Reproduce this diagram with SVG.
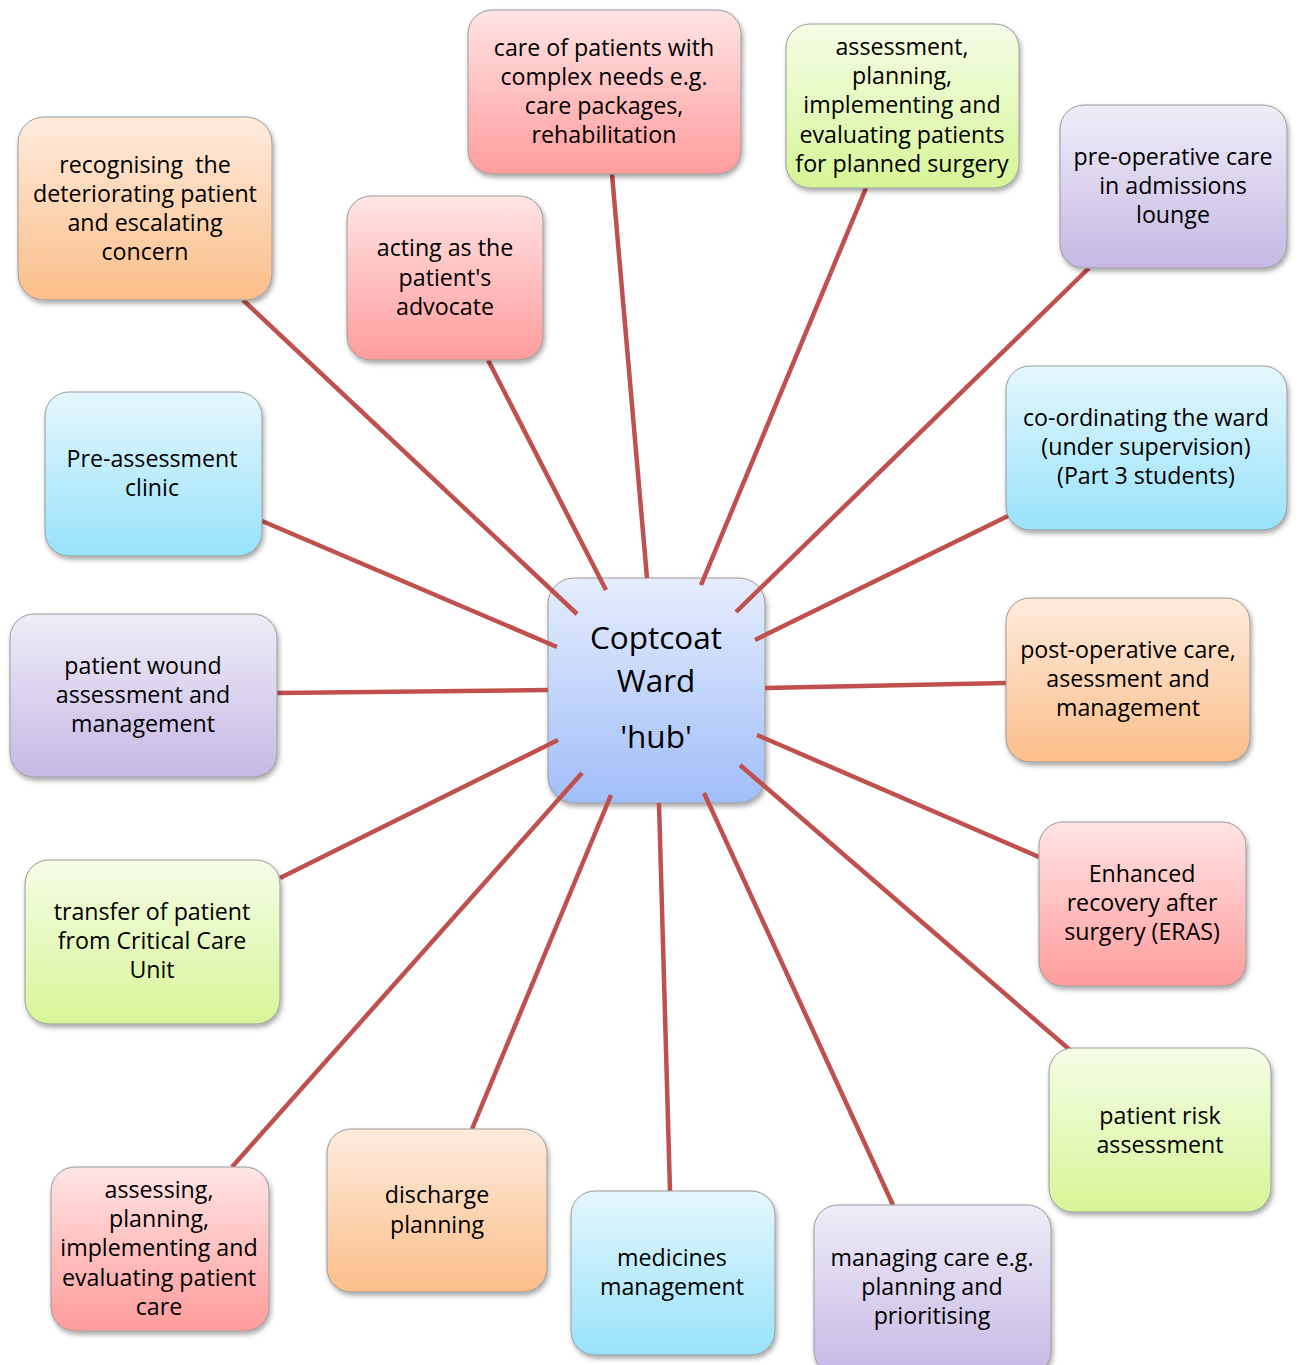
<svg xmlns="http://www.w3.org/2000/svg" width="1298" height="1365" viewBox="0 0 1298 1365">
<defs>
<linearGradient id="gOr" x1="0" y1="0" x2="0" y2="1"><stop offset="0" stop-color="#FEEBDC"/><stop offset="1" stop-color="#FBBE8A"/></linearGradient>
<linearGradient id="gPk" x1="0" y1="0" x2="0" y2="1"><stop offset="0" stop-color="#FFE4E4"/><stop offset="1" stop-color="#FF9C9C"/></linearGradient>
<linearGradient id="gGr" x1="0" y1="0" x2="0" y2="1"><stop offset="0" stop-color="#F5FDE6"/><stop offset="1" stop-color="#D6F597"/></linearGradient>
<linearGradient id="gPu" x1="0" y1="0" x2="0" y2="1"><stop offset="0" stop-color="#EFEDF8"/><stop offset="1" stop-color="#C6B8E4"/></linearGradient>
<linearGradient id="gBl" x1="0" y1="0" x2="0" y2="1"><stop offset="0" stop-color="#E4F7FD"/><stop offset="1" stop-color="#98E2FA"/></linearGradient>
<linearGradient id="gHub" x1="0" y1="0" x2="0" y2="1"><stop offset="0" stop-color="#E5EDFD"/><stop offset="1" stop-color="#A0BEF9"/></linearGradient>
<filter id="sh" x="-10%" y="-10%" width="125%" height="130%"><feDropShadow dx="1.5" dy="3" stdDeviation="2.5" flood-color="#000" flood-opacity="0.35"/></filter>
</defs>
<style>
.box{stroke:#9a9a9a;stroke-width:1;filter:url(#sh)}
.t{font-family:"Open Sans","Noto Sans",sans-serif;font-size:23.2px;fill:#000;text-anchor:middle;white-space:pre}
.h{font-family:"Open Sans","Noto Sans",sans-serif;font-size:31.5px;fill:#000;text-anchor:middle}
.c line{stroke:#C0504D;stroke-width:4.5;stroke-linecap:butt}
</style>
<rect width="1298" height="1365" fill="#fff"/>

<g id="hub">
<rect class="box" x="548" y="578" width="217" height="225" rx="26" fill="url(#gHub)"/>
<text class="h" x="656" y="649">Coptcoat</text>
<text class="h" x="656" y="692">Ward</text>
<text class="h" x="656" y="748">'hub'</text>
</g>

<g id="connectors" class="c">
<line x1="243" y1="300" x2="577" y2="614"/>
<line x1="488" y1="360" x2="606" y2="590"/>
<line x1="612" y1="174" x2="647" y2="578"/>
<line x1="866" y1="188" x2="701" y2="585"/>
<line x1="1089" y1="268" x2="736" y2="612"/>
<line x1="1008" y1="516" x2="755" y2="640"/>
<line x1="1006" y1="683" x2="765" y2="688"/>
<line x1="1039" y1="857" x2="757" y2="735"/>
<line x1="1070" y1="1050" x2="740" y2="765"/>
<line x1="893" y1="1205" x2="704" y2="793"/>
<line x1="670" y1="1191" x2="659" y2="803"/>
<line x1="472" y1="1129" x2="611" y2="795"/>
<line x1="232" y1="1167" x2="582" y2="773"/>
<line x1="280" y1="878" x2="558" y2="740"/>
<line x1="277" y1="693" x2="548" y2="690"/>
<line x1="262" y1="521" x2="557" y2="647"/>
</g>

<g id="n-recognising">
<rect class="box" x="18" y="117" width="254" height="183" rx="26" fill="url(#gOr)"/>
<text class="t" x="145" y="173" xml:space="preserve">recognising  the</text>
<text class="t" x="145" y="202">deteriorating patient</text>
<text class="t" x="145" y="231">and escalating</text>
<text class="t" x="145" y="260">concern</text>
</g>

<g id="n-advocate">
<rect class="box" x="347" y="196" width="196" height="164" rx="24" fill="url(#gPk)"/>
<text class="t" x="445" y="256">acting as the</text>
<text class="t" x="445" y="286">patient's</text>
<text class="t" x="445" y="315">advocate</text>
</g>

<g id="n-complex">
<rect class="box" x="468" y="10" width="273" height="164" rx="24" fill="url(#gPk)"/>
<text class="t" x="604" y="56">care of patients with</text>
<text class="t" x="604" y="85">complex needs e.g.</text>
<text class="t" x="604" y="114">care packages,</text>
<text class="t" x="604" y="143">rehabilitation</text>
</g>

<g id="n-planned">
<rect class="box" x="786" y="24" width="233" height="164" rx="24" fill="url(#gGr)"/>
<text class="t" x="902" y="55">assessment,</text>
<text class="t" x="902" y="84">planning,</text>
<text class="t" x="902" y="113">implementing and</text>
<text class="t" x="902" y="143">evaluating patients</text>
<text class="t" x="902" y="172">for planned surgery</text>
</g>

<g id="n-preop">
<rect class="box" x="1060" y="105" width="227" height="163" rx="24" fill="url(#gPu)"/>
<text class="t" x="1173" y="165">pre-operative care</text>
<text class="t" x="1173" y="194">in admissions</text>
<text class="t" x="1173" y="223">lounge</text>
</g>

<g id="n-coordinating">
<rect class="box" x="1006" y="366" width="281" height="164" rx="24" fill="url(#gBl)"/>
<text class="t" x="1146" y="426">co-ordinating the ward</text>
<text class="t" x="1146" y="455">(under supervision)</text>
<text class="t" x="1146" y="484">(Part 3 students)</text>
</g>

<g id="n-postop">
<rect class="box" x="1006" y="598" width="244" height="164" rx="24" fill="url(#gOr)"/>
<text class="t" x="1128" y="658">post-operative care,</text>
<text class="t" x="1128" y="687">asessment and</text>
<text class="t" x="1128" y="716">management</text>
</g>

<g id="n-eras">
<rect class="box" x="1039" y="822" width="207" height="164" rx="24" fill="url(#gPk)"/>
<text class="t" x="1142" y="882">Enhanced</text>
<text class="t" x="1142" y="911">recovery after</text>
<text class="t" x="1142" y="940">surgery (ERAS)</text>
</g>

<g id="n-risk">
<rect class="box" x="1049" y="1048" width="222" height="164" rx="24" fill="url(#gGr)"/>
<text class="t" x="1160" y="1124">patient risk</text>
<text class="t" x="1160" y="1153">assessment</text>
</g>

<g id="n-managing">
<rect class="box" x="814" y="1205" width="237" height="170" rx="24" fill="url(#gPu)"/>
<text class="t" x="932" y="1266">managing care e.g.</text>
<text class="t" x="932" y="1295">planning and</text>
<text class="t" x="932" y="1324">prioritising</text>
</g>

<g id="n-medicines">
<rect class="box" x="571" y="1191" width="204" height="164" rx="24" fill="url(#gBl)"/>
<text class="t" x="672" y="1266">medicines</text>
<text class="t" x="672" y="1295">management</text>
</g>

<g id="n-discharge">
<rect class="box" x="327" y="1129" width="220" height="163" rx="24" fill="url(#gOr)"/>
<text class="t" x="437" y="1203">discharge</text>
<text class="t" x="437" y="1233">planning</text>
</g>

<g id="n-assessing">
<rect class="box" x="51" y="1167" width="218" height="164" rx="24" fill="url(#gPk)"/>
<text class="t" x="159" y="1198">assessing,</text>
<text class="t" x="159" y="1227">planning,</text>
<text class="t" x="159" y="1256">implementing and</text>
<text class="t" x="159" y="1286">evaluating patient</text>
<text class="t" x="159" y="1315">care</text>
</g>

<g id="n-transfer">
<rect class="box" x="25" y="860" width="255" height="164" rx="24" fill="url(#gGr)"/>
<text class="t" x="152" y="920">transfer of patient</text>
<text class="t" x="152" y="949">from Critical Care</text>
<text class="t" x="152" y="978">Unit</text>
</g>

<g id="n-wound">
<rect class="box" x="10" y="614" width="267" height="163" rx="24" fill="url(#gPu)"/>
<text class="t" x="143" y="674">patient wound</text>
<text class="t" x="143" y="703">assessment and</text>
<text class="t" x="143" y="732">management</text>
</g>

<g id="n-preassessment">
<rect class="box" x="45" y="392" width="217" height="164" rx="24" fill="url(#gBl)"/>
<text class="t" x="152" y="467">Pre-assessment</text>
<text class="t" x="152" y="496">clinic</text>
</g>
</svg>
